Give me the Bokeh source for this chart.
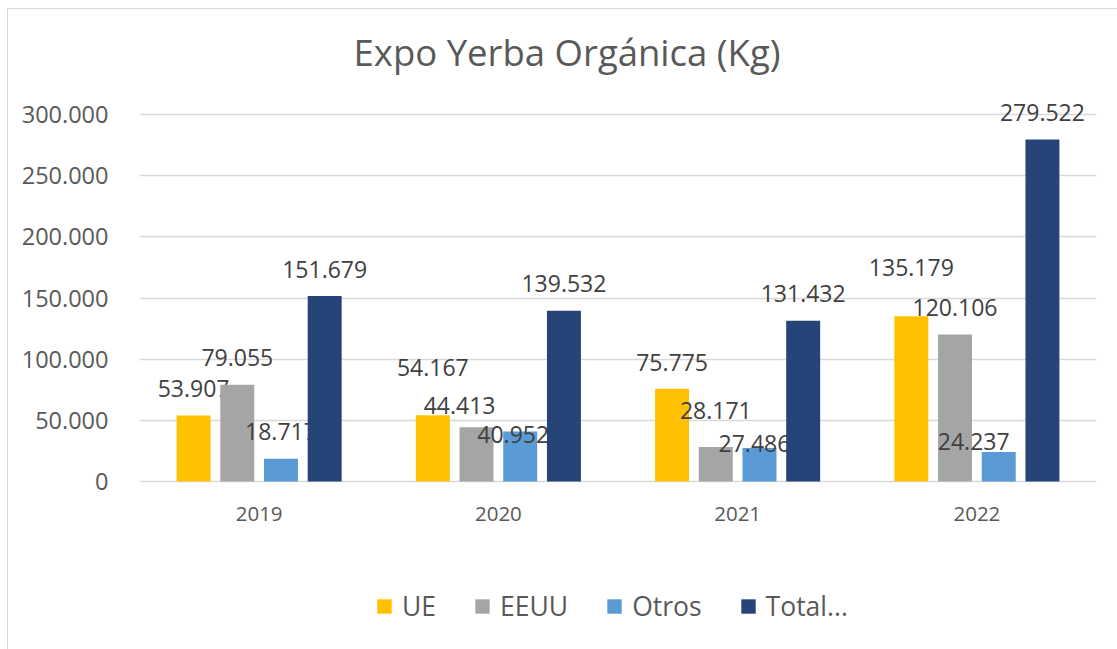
from bokeh.plotting import figure
from bokeh.models import ColumnDataSource, FactorRange, Range1d, FixedTicker, Legend, LegendItem
from bokeh.transform import dodge
from bokeh.core.properties import value
from bokeh.embed import file_html
from bokeh.resources import INLINE

# ---- data ----
years = ["2019", "2020", "2021", "2022"]
series_names = ["UE", "EEUU", "Otros", "Total..."]
ue = [53907, 54167, 75775, 135179]
eeuu = [79055, 44413, 28171, 120106]
otros = [18717, 40952, 27486, 24237]
total = [151679, 139532, 131432, 279522]
y_ticks = [0, 50000, 100000, 150000, 200000, 250000, 300000]
title_text = "Expo Yerba Orgánica (Kg)"

# ---- styles ----
colors = ["#FFC000", "#A5A5A5", "#5B9BD5", "#264478"]
FONT = "Open Sans"
# manual nudges of data labels (screen px) as placed in the reference
label_dx = [[0, 0, 0, 0], [0, -17, 0, 0], [0, -7, -5, -25], [0, 0, 0, 0]]
label_dy = [[-27, -48, -26, -49], [-27, -22, -37, -27], [-27, 3, -4, -10], [-26, -27, -27, -27]]


def fmt(v):
    return f"{v:,}".replace(",", ".")


# the frame extends below zero so that category labels and legend live inside it
p = figure(
    x_range=FactorRange(*years), y_range=Range1d(-134000, 320400),
    frame_width=957, frame_height=556, output_backend="svg", toolbar_location=None,
    min_border_left=131, min_border_right=21, min_border_top=80, min_border_bottom=4,
)
p.styles = {"margin": "8px 0px 0px 7px",
            "border-left": "1px solid #D9D9D9", "border-top": "1px solid #D9D9D9"}
p.outline_line_color = None
p.background_fill_color = "white"
p.border_fill_color = "white"

p.title.text = title_text
p.title.text_font = FONT
p.title.text_font_size = "36.5px"
p.title.text_font_style = "normal"
p.title.text_color = "#595959"
p.title.align = "left"
p.title.offset = 214
p.title.standoff = 26

offsets = [-0.274, -0.0913, 0.0913, 0.274]
items = []
for i, (name, vals) in enumerate(zip(series_names, [ue, eeuu, otros, total])):
    src = ColumnDataSource(dict(
        year=years, val=vals, lab=[fmt(v) for v in vals],
        dx=label_dx[i], dy=label_dy[i],
    ))
    xs = dodge("year", offsets[i], range=p.x_range)
    r = p.vbar(x=xs, top="val", width=0.142, source=src,
               fill_color=colors[i], line_color=colors[i], line_width=0)
    p.text(x=xs, y="val", text="lab", source=src, x_offset="dx", y_offset="dy",
           text_align="center", text_baseline="middle",
           text_font=value(FONT), text_font_size="23px", text_color="#404040")
    items.append(LegendItem(label=name, renderers=[r]))

# category labels under the baseline
cat_src = ColumnDataSource(dict(year=years, y0=[0] * len(years)))
p.text(x="year", y="y0", text="year", source=cat_src, y_offset=32,
       text_align="center", text_baseline="middle",
       text_font=value(FONT), text_font_size="20.5px", text_color="#595959")

# axes
p.xaxis.visible = False
p.yaxis.ticker = FixedTicker(ticks=y_ticks)
p.yaxis.major_label_overrides = {t: fmt(t) for t in y_ticks}
p.yaxis.axis_line_color = None
p.yaxis.major_tick_line_color = None
p.yaxis.minor_tick_line_color = None
p.yaxis.major_label_standoff = 25
p.yaxis.major_label_text_font = FONT
p.yaxis.major_label_text_font_size = "23.5px"
p.yaxis.major_label_text_color = "#595959"

p.xgrid.grid_line_color = None
p.ygrid.grid_line_color = "#D9D9D9"
p.ygrid.grid_line_width = 1.5
p.ygrid.ticker = FixedTicker(ticks=y_ticks)

legend = Legend(items=items, orientation="horizontal", location=(236, 21),
                glyph_width=18, glyph_height=18, spacing=37, label_standoff=9,
                label_text_font=FONT, label_text_font_size="26.5px", label_text_color="#595959",
                border_line_color=None, background_fill_alpha=0, padding=0, margin=0)
p.add_layout(legend, "center")

open("out.html", "w").write(file_html(p, INLINE))
